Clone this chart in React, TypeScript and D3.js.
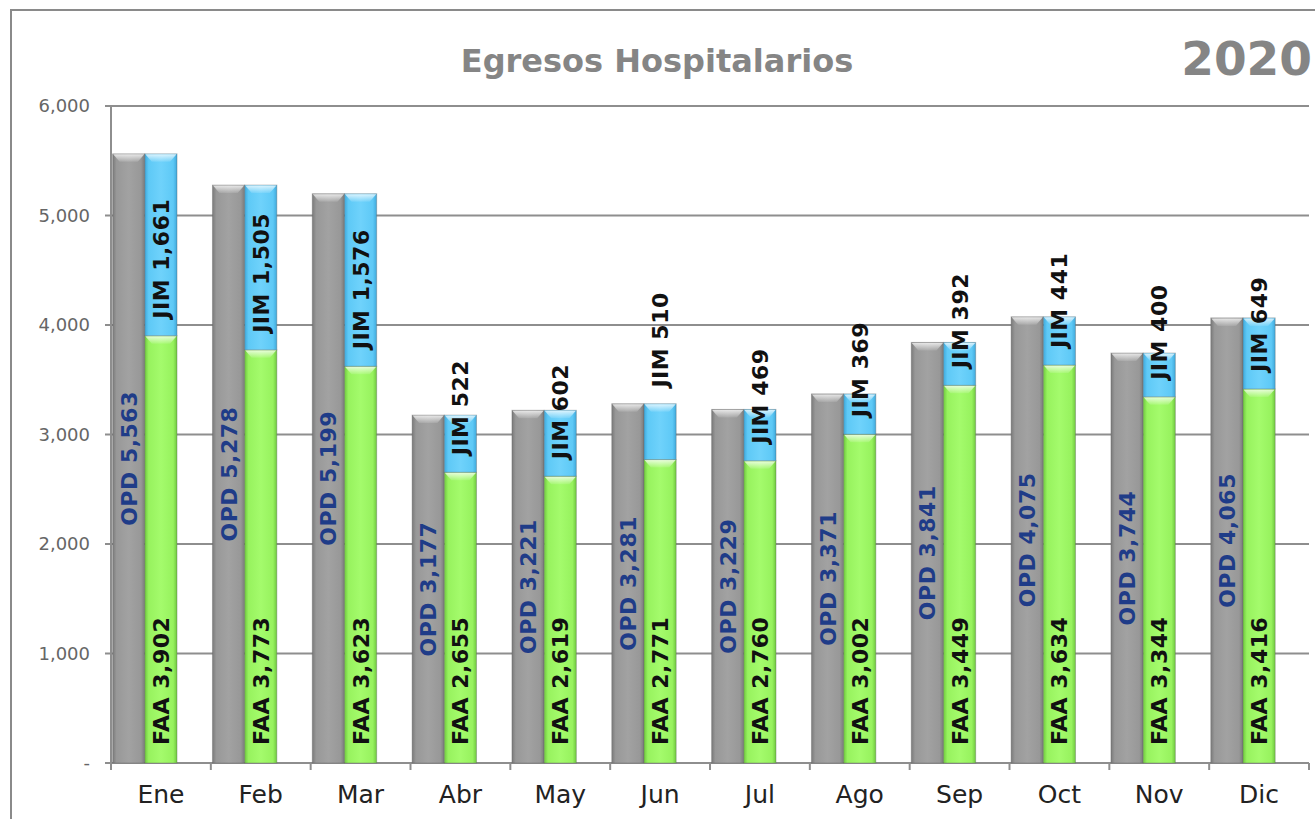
import React, { useEffect, useRef } from "react";
import * as d3 from "d3";

const months = ["Ene", "Feb", "Mar", "Abr", "May", "Jun", "Jul", "Ago", "Sep", "Oct", "Nov", "Dic"];
const opd = [5563, 5278, 5199, 3177, 3221, 3281, 3229, 3371, 3841, 4075, 3744, 4065];
const faa = [3902, 3773, 3623, 2655, 2619, 2771, 2760, 3002, 3449, 3634, 3344, 3416];
const jim = [1661, 1505, 1576, 522, 602, 510, 469, 369, 392, 441, 400, 649];
const yTicks = [0, 1000, 2000, 3000, 4000, 5000, 6000];

// the Jun JIM label sits higher in the original (moved by hand)
const jimLabelLift: Record<string, number> = { Jun: 55 };

function App() {
  const svgRef = useRef<SVGSVGElement>(null);
  const width = 1315,
    height = 819;
  const left = 111,
    right = 1309,
    top = 106,
    bottom = 763;

  useEffect(() => {
    const svg = d3.select(svgRef.current);
    svg.selectAll("*").remove();

    const x = d3.scaleBand<string>().domain(months).range([left, right]).padding(0);
    const x1 = d3
      .scaleBand<string>()
      .domain(["opd", "stack", "empty"])
      .range([0, x.bandwidth()])
      .paddingInner(0)
      .paddingOuter(0.05);
    const y = d3.scaleLinear().domain([0, 6000]).range([bottom, top]);
    const bw = x1.bandwidth();

    // gradients
    const defs = svg.append("defs");
    const makeGrad = (id: string, edge: string, body: string, light: string) => {
      const g = defs.append("linearGradient").attr("id", id).attr("x1", 0).attr("x2", 1).attr("y1", 0).attr("y2", 0);
      g.append("stop").attr("offset", "0%").attr("stop-color", edge);
      g.append("stop").attr("offset", "12%").attr("stop-color", body);
      g.append("stop").attr("offset", "50%").attr("stop-color", light);
      g.append("stop").attr("offset", "88%").attr("stop-color", body);
      g.append("stop").attr("offset", "100%").attr("stop-color", edge);
      const b = defs.append("linearGradient").attr("id", id + "-bevel").attr("x1", 0).attr("x2", 0).attr("y1", 0).attr("y2", 1);
      b.append("stop").attr("offset", "0%").attr("stop-color", "#ffffff").attr("stop-opacity", 0.75);
      b.append("stop").attr("offset", "100%").attr("stop-color", "#ffffff").attr("stop-opacity", 0.1);
    };
    makeGrad("gray", "#7a7a7a", "#989898", "#a2a2a2");
    makeGrad("blue", "#3fa9dc", "#5ec9f6", "#6fd2fb");
    makeGrad("green", "#6fc83f", "#97f25e", "#a4fb6c");

    // frame
    svg
      .append("rect")
      .attr("x", 11)
      .attr("y", 10)
      .attr("width", 1340)
      .attr("height", 850)
      .attr("fill", "none")
      .attr("stroke", "#8a8a8a")
      .attr("stroke-width", 2);

    // title
    svg
      .append("text")
      .attr("x", 657)
      .attr("y", 72)
      .attr("text-anchor", "middle")
      .attr("font-family", "DejaVu Sans")
      .attr("font-weight", "bold")
      .attr("font-size", "32px")
      .attr("fill", "#858585")
      .text("Egresos Hospitalarios");
    svg
      .append("text")
      .attr("x", 1312)
      .attr("y", 75)
      .attr("text-anchor", "end")
      .attr("font-family", "DejaVu Sans")
      .attr("font-weight", "bold")
      .attr("font-size", "47px")
      .attr("fill", "#858585")
      .text("2020");

    // grid + y axis
    const grid = svg.append("g");
    yTicks.forEach((t) => {
      grid
        .append("line")
        .attr("x1", left - 6)
        .attr("x2", right)
        .attr("y1", y(t))
        .attr("y2", y(t))
        .attr("stroke", "#8e8e8e")
        .attr("stroke-width", 2);
      grid
        .append("text")
        .attr("x", 90)
        .attr("y", y(t))
        .attr("dy", "0.36em")
        .attr("text-anchor", "end")
        .attr("font-family", "DejaVu Sans")
        .attr("font-size", "18px")
        .attr("fill", "#666666")
        .text(t === 0 ? "-" : d3.format(",")(t));
    });
    grid
      .append("line")
      .attr("x1", left)
      .attr("x2", left)
      .attr("y1", top)
      .attr("y2", bottom + 7)
      .attr("stroke", "#8e8e8e")
      .attr("stroke-width", 2);
    months.forEach((m) => {
      const bx = (x(m) as number) + x.bandwidth();
      grid
        .append("line")
        .attr("x1", bx)
        .attr("x2", bx)
        .attr("y1", bottom)
        .attr("y2", bottom + 7)
        .attr("stroke", "#8e8e8e")
        .attr("stroke-width", 2);
    });

    // bars
    const drawBar = (bx: number, y0: number, y1: number, grad: string) => {
      const h = y0 - y1;
      svg
        .append("rect")
        .attr("x", bx)
        .attr("y", y1)
        .attr("width", bw)
        .attr("height", h)
        .attr("fill", `url(#${grad})`)
        .attr("stroke", "#5f5f5f")
        .attr("stroke-opacity", 0.35)
        .attr("stroke-width", 1);
      const bh = Math.min(8, h);
      svg
        .append("polygon")
        .attr(
          "points",
          [
            [bx + 0.5, y1 + 0.5],
            [bx + bw - 0.5, y1 + 0.5],
            [bx + bw - 7, y1 + bh],
            [bx + 7, y1 + bh],
          ]
            .map((p) => p.join(","))
            .join(" ")
        )
        .attr("fill", `url(#${grad}-bevel)`);
    };

    months.forEach((m, i) => {
      const bx = x(m) as number;
      drawBar(bx + (x1("opd") as number), y(0), y(opd[i]), "gray");
      drawBar(bx + (x1("stack") as number), y(0), y(faa[i]), "green");
      drawBar(bx + (x1("stack") as number), y(faa[i]), y(faa[i] + jim[i]), "blue");
    });

    // labels
    const fmt = d3.format(",");
    const capShift = 8;
    const label = (cx: number, cy: number, anchor: string, fill: string, txt: string) => {
      svg
        .append("text")
        .attr("transform", `translate(${cx + capShift},${cy}) rotate(-90)`)
        .attr("text-anchor", anchor)
        .attr("font-family", "DejaVu Sans")
        .attr("font-weight", "bold")
        .attr("font-size", "22px")
        .attr("letter-spacing", "0.5px")
        .attr("fill", fill)
        .text(txt);
    };
    months.forEach((m, i) => {
      const bx = x(m) as number;
      const cOpd = bx + (x1("opd") as number) + bw / 2;
      const cStack = bx + (x1("stack") as number) + bw / 2;
      label(cOpd, (y(0) + y(opd[i])) / 2, "middle", "#1f3c88", "OPD " + fmt(opd[i]));
      label(cStack, y(0) - 18, "start", "#111111", "FAA " + fmt(faa[i]));
      label(cStack, y(faa[i]) - 17 - (jimLabelLift[m] || 0), "start", "#111111", "JIM " + fmt(jim[i]));
    });

    // month labels
    months.forEach((m) => {
      svg
        .append("text")
        .attr("x", (x(m) as number) + x.bandwidth() / 2)
        .attr("y", 803)
        .attr("text-anchor", "middle")
        .attr("font-family", "DejaVu Sans")
        .attr("font-size", "25px")
        .attr("fill", "#222222")
        .text(m);
    });
  }, []);

  return (
    <div>
      <svg
        ref={svgRef}
        width={width}
        height={height}
        style={{ position: "absolute", left: 0, top: 0, background: "#ffffff" }}
      ></svg>
    </div>
  );
}

export default App;
